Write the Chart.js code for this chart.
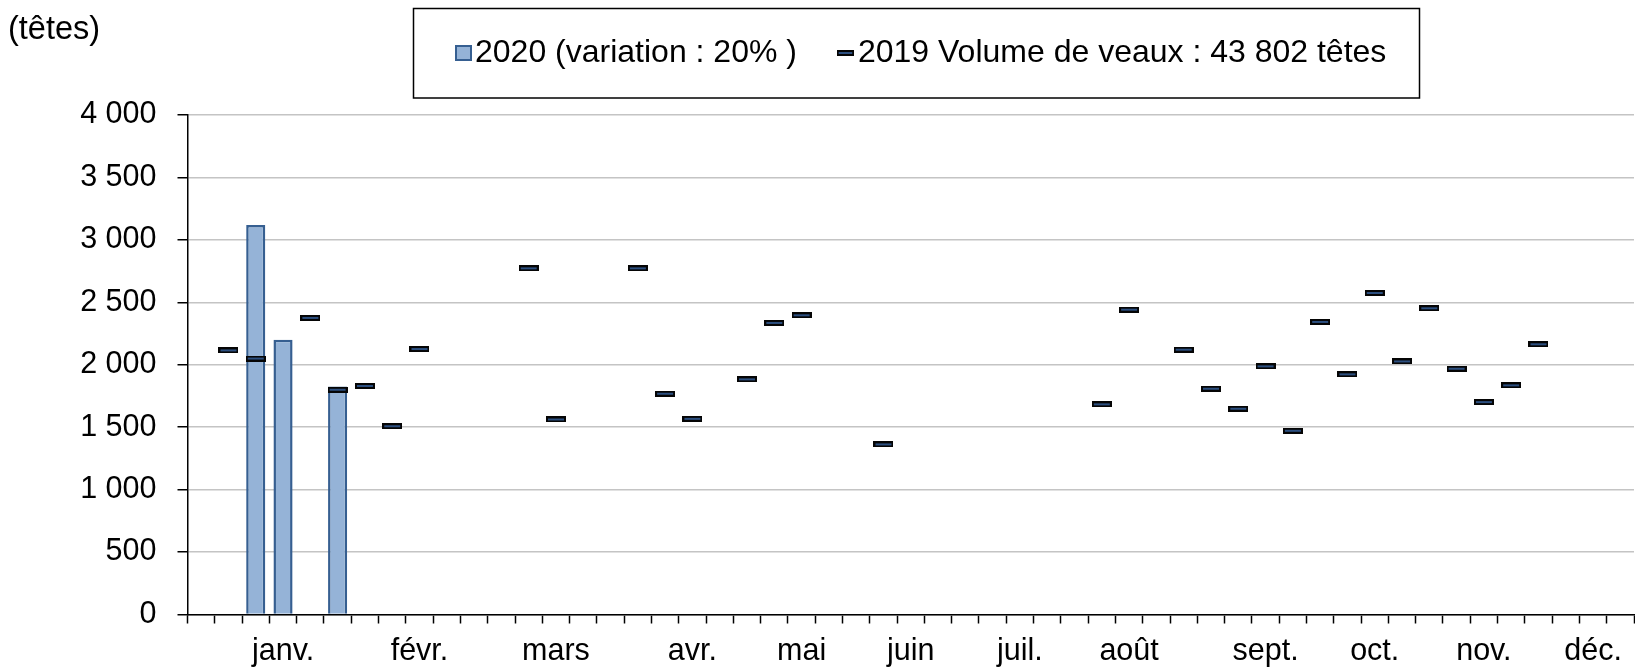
<!DOCTYPE html>
<html lang="fr">
<head>
<meta charset="utf-8">
<script src="https://cdn.jsdelivr.net/npm/chart.js@4.4.1/dist/chart.umd.min.js"></script>
<style>
  html, body { margin: 0; padding: 0; background: #fff; overflow: hidden; }
  #wrap { position: relative; width: 1635px; height: 668px; overflow: hidden; }
  canvas { position: absolute; left: 0; top: 0; }
</style>
</head>
<body>
<div id="wrap"><canvas id="c" width="1645" height="668"></canvas></div>
<script>
// ---- data ----
const unitLabel = '(têtes)';
const label2020 = '2020 (variation : 20% )';
const label2019 = '2019 Volume de veaux : 43 802 têtes';

const monthLabels = ['janv.', 'févr.', 'mars', 'avr.', 'mai', 'juin', 'juil.', 'août', 'sept.', 'oct.', 'nov.', 'déc.'];
const monthWeekIndex = [3, 8, 13, 18, 22, 26, 30, 34, 39, 43, 47, 51];
const weekCount = 53;

const values2020 = [null, null, 3120, 2200, null, 1825, null, null, null, null,
  null, null, null, null, null, null, null, null, null, null,
  null, null, null, null, null, null, null, null, null, null,
  null, null, null, null, null, null, null, null, null, null,
  null, null, null, null, null, null, null, null, null, null,
  null, null, null];

const values2019 = [null, 2115, 2050, null, 2375, 1800, 1830, 1508, 2126, null,
  null, null, 2772, 1562, null, null, 2772, 1768, 1567, null,
  1883, 2335, 2396, null, null, 1362, null, null, null, null,
  null, null, null, 1683, 2441, null, 2121, 1808, 1648, 1987,
  1471, 2343, 1923, 2575, 2027, 2452, 1968, 1701, 1835, 2164,
  null, null, null];

const yTicks = [0, 500, 1000, 1500, 2000, 2500, 3000, 3500, 4000];

// ---- build labels ----
const weekLabels = [];
for (let i = 0; i < weekCount; i++) weekLabels.push('');
monthWeekIndex.forEach((w, k) => { weekLabels[w] = monthLabels[k]; });

const FONT = '"Liberation Sans", Arial, sans-serif';
const barFill = '#95b3d7';
const barBorder = '#365f91';

// dash marker image for the 2019 series
function makeDash(w, h) {
  const cv = document.createElement('canvas');
  cv.width = w; cv.height = h;
  const x = cv.getContext('2d');
  x.fillStyle = '#050505';
  x.fillRect(0, 0, w, h);
  x.fillStyle = '#2c4f80';
  x.fillRect(2, 2, w - 4, h - 4);
  return cv;
}
const dashImg = makeDash(20, 6);

const fmt = v => String(v).replace(/\B(?=(\d{3})+(?!\d))/g, ' ');

const boxLegend = {
  id: 'boxLegend',
  afterDraw(chart) {
    const ctx = chart.ctx;
    ctx.save();
    ctx.fillStyle = '#000';
    ctx.textAlign = 'left';
    ctx.textBaseline = 'middle';
    ctx.font = '32.5px ' + FONT;
    ctx.fillText(unitLabel, 8, 30);

    ctx.strokeStyle = '#000';
    ctx.lineWidth = 1.5;
    ctx.strokeRect(413.5, 8.5, 1006, 89.5);

    ctx.font = '32px ' + FONT;
    const cy = 53;
    let x = 455;
    const ds = chart.data.datasets;
    // bar item
    ctx.fillStyle = barFill;
    ctx.fillRect(x, 45, 17, 16);
    ctx.strokeStyle = barBorder;
    ctx.lineWidth = 2;
    ctx.strokeRect(x + 1, 46, 15, 14);
    x += 20;
    ctx.fillStyle = '#000';
    ctx.fillText(ds[1].label, x, cy);
    x += ctx.measureText(ds[1].label).width + 40;
    // dash item
    ctx.drawImage(dashImg, x, cy - 3, 17, 6);
    x += 21;
    ctx.fillText(ds[0].label, x, cy);
    ctx.restore();
  }
};

new Chart(document.getElementById('c'), {
  data: {
    labels: weekLabels,
    datasets: [
      {
        type: 'line',
        label: label2019,
        data: values2019,
        showLine: false,
        pointStyle: dashImg,
        pointRadius: 10,
        pointHoverRadius: 10,
        order: 0
      },
      {
        type: 'bar',
        label: label2020,
        data: values2020,
        backgroundColor: barFill,
        borderColor: barBorder,
        borderWidth: 2.5,
        categoryPercentage: 1.0,
        barPercentage: 0.70,
        order: 1
      }
    ]
  },
  options: {
    responsive: false,
    animation: false,
    devicePixelRatio: 1,
    layout: { padding: { top: 115, left: 0, right: 0, bottom: 0 } },
    plugins: {
      legend: { display: false },
      tooltip: { enabled: false },
      title: { display: false }
    },
    scales: {
      x: {
        type: 'category',
        offset: true,
        grid: {
          offset: true,
          drawOnChartArea: false,
          drawTicks: true,
          tickLength: 9,
          tickColor: '#000',
          tickWidth: 1.5
        },
        border: { display: true, color: '#000', width: 1.5 },
        ticks: {
          autoSkip: false,
          maxRotation: 0,
          minRotation: 0,
          padding: 10,
          color: '#000',
          font: { family: FONT, size: 30.5 }
        },
        afterFit(scale) { scale.height = 53.5; }
      },
      y: {
        min: 0,
        max: 4000,
        afterBuildTicks(scale) { scale.ticks = yTicks.map(v => ({ value: v })); },
        grid: {
          color: '#c4c4c4',
          lineWidth: 1.5,
          drawTicks: true,
          tickLength: 10,
          tickColor: '#000',
          tickWidth: 1.5
        },
        border: { display: true, color: '#000', width: 1.5 },
        ticks: {
          padding: 21,
          color: '#000',
          font: { family: FONT, size: 30.5 },
          callback: v => fmt(v)
        },
        afterFit(scale) { scale.width = 187.5; }
      }
    }
  },
  plugins: [boxLegend]
});
</script>
</body>
</html>
